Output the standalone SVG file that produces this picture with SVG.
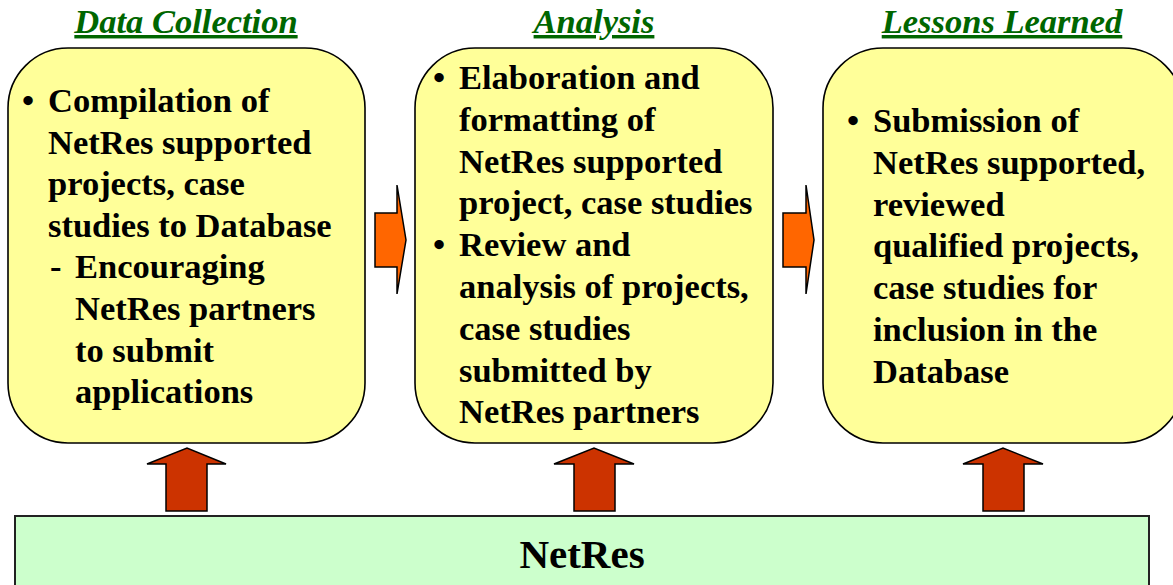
<svg xmlns="http://www.w3.org/2000/svg" width="1173" height="585" viewBox="0 0 1173 585">
<style>
.box{fill:#FFFF99;stroke:#000;stroke-width:1.6}
.base{fill:#CCFFCC;stroke:#222;stroke-width:2}
.hd{font-family:"Liberation Serif","Times New Roman",serif;font-weight:bold;font-style:italic;font-size:34.5px;fill:#006600;text-decoration:underline;text-anchor:middle}
.tx{font-family:"Liberation Serif","Times New Roman",serif;font-weight:bold;font-size:34.5px;fill:#000}
.ra{fill:#FF6600;stroke:#000;stroke-width:1.5;stroke-linejoin:miter}
.ua{fill:#CC3300;stroke:#000;stroke-width:1.5}
.big{font-family:"Liberation Serif","Times New Roman",serif;font-weight:bold;font-size:41px;fill:#000;text-anchor:middle}
</style>
<rect width="1173" height="585" fill="#fff"/>
<g id="base">
<rect class="base" x="15" y="516" width="1134" height="80"/>
<text class="big" x="582" y="568">NetRes</text>
</g>
<g id="data-collection">
<text class="hd" x="186" y="33">Data Collection</text>
<rect class="box" x="8" y="48" width="357" height="395" rx="60" ry="60"/>
<text class="tx" x="22" y="112">•</text>
<text class="tx" x="48" y="112">Compilation of<tspan x="48" dy="41.6">NetRes supported</tspan><tspan x="48" dy="41.6">projects, case</tspan><tspan x="48" dy="41.6">studies to Database</tspan></text>
<text class="tx" x="50" y="278.4">-</text>
<text class="tx" x="75" y="278.4">Encouraging<tspan x="75" dy="41.6">NetRes partners</tspan><tspan x="75" dy="41.6">to submit</tspan><tspan x="75" dy="41.6">applications</tspan></text>
</g>
<g id="analysis">
<text class="hd" x="594" y="33">Analysis</text>
<rect class="box" x="415" y="48" width="358" height="395" rx="60" ry="60"/>
<text class="tx" x="433" y="89">•</text>
<text class="tx" x="459" y="89">Elaboration and<tspan x="459" dy="41.8">formatting of</tspan><tspan x="459" dy="41.8">NetRes supported</tspan><tspan x="459" dy="41.8">project, case studies</tspan></text>
<text class="tx" x="433" y="256.2">•</text>
<text class="tx" x="459" y="256.2">Review and<tspan x="459" dy="41.8">analysis of projects,</tspan><tspan x="459" dy="41.8">case studies</tspan><tspan x="459" dy="41.8">submitted by</tspan><tspan x="459" dy="41.8">NetRes partners</tspan></text>
</g>
<g id="lessons-learned">
<text class="hd" x="1002" y="33">Lessons Learned</text>
<rect class="box" x="823" y="48" width="360" height="395" rx="60" ry="60"/>
<text class="tx" x="847" y="132">•</text>
<text class="tx" x="873" y="132">Submission of<tspan x="873" dy="41.8">NetRes supported,</tspan><tspan x="873" dy="41.8">reviewed</tspan><tspan x="873" dy="41.8">qualified projects,</tspan><tspan x="873" dy="41.8">case studies for</tspan><tspan x="873" dy="41.8">inclusion in the</tspan><tspan x="873" dy="41.8">Database</tspan></text>
</g>
<g id="connectors">
<polygon class="ra" points="375,213 397,213 397,185 406,240 397,294 397,267 375,267"/>
<polygon class="ra" points="783,213 806,213 806,185 814,240 806,294 806,267 783,267"/>
<polygon class="ua" points="166,511 166,464 147,464 187,448 226,464 207,464 207,511"/>
<polygon class="ua" points="574,511 574,464 554,464 594,448 634,464 615,464 615,511"/>
<polygon class="ua" points="983,511 983,464 963,464 1003,448 1043,464 1024,464 1024,511"/>
</g>
</svg>
